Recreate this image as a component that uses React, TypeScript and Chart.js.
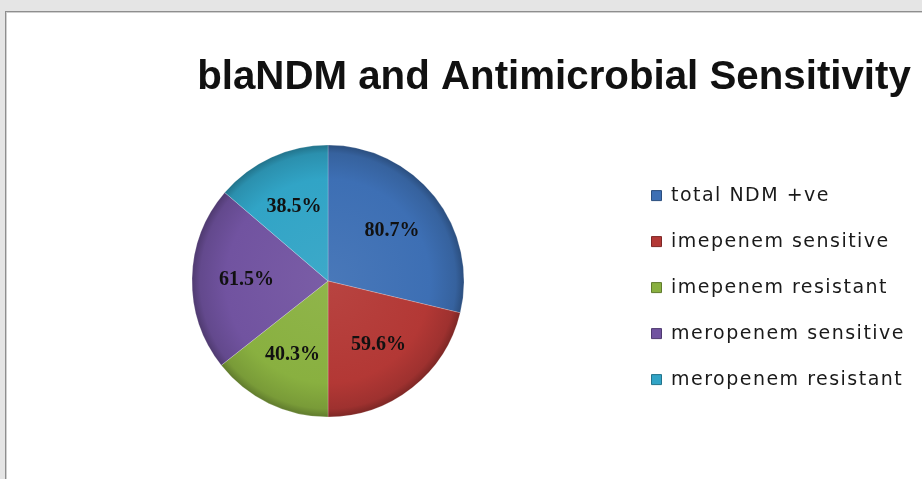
import React, { useEffect, useRef } from "react";
import { Chart, registerables } from "chart.js";

Chart.register(...registerables);

// ---- data ----
const chartTitle = "blaNDM and Antimicrobial Sensitivity";
const categories = [
  "total NDM +ve",
  "imepenem sensitive",
  "imepenem resistant",
  "meropenem sensitive",
  "meropenem resistant",
];
const values = [80.7, 59.6, 40.3, 61.5, 38.5];
const sliceColors = ["#3d6fb4", "#b33835", "#89b040", "#7153a0", "#31a4c6"];

// ---- style / layout ----
const CANVAS_W = 960;
const CANVAS_H = 467;
const PIE_RADIUS = 136;
const PIE_CX = 322;
const LEGEND_FONT = 19;
const LEGEND_FAMILY = '"DejaVu Sans", "Noto Sans", sans-serif';
const LEGEND_TARGET_W = 234;
const LEGEND_PAD = 27;
const LEGEND_BOX = 10;
const LEGEND_TEXT_X = 665;
const TITLE_FAMILY = '"Liberation Sans Narrow", "Liberation Sans", sans-serif';
const TITLE_TARGET_W = 714;
const TITLE_X = 548;
const TITLE_Y = 77;
const LABEL_FONT = 'bold 20px "Liberation Serif", "Times New Roman", serif';
const LABEL_R = 0.6;

function shade(hex: string, amt: number): string {
  const n = parseInt(hex.slice(1), 16);
  let r = (n >> 16) & 255, g = (n >> 8) & 255, b = n & 255;
  const t = amt < 0 ? 0 : 255;
  const p = Math.abs(amt);
  r = Math.round(r + (t - r) * p);
  g = Math.round(g + (t - g) * p);
  b = Math.round(b + (t - b) * p);
  return `rgb(${r},${g},${b})`;
}

export default function App() {
  const ref = useRef<HTMLCanvasElement>(null);

  useEffect(() => {
    const canvas = ref.current;
    if (!canvas) return;

    const m = document.createElement("canvas").getContext("2d") as any;
    m.font = `${LEGEND_FONT}px ${LEGEND_FAMILY}`;
    m.letterSpacing = "0px";
    let widest = categories[0];
    let rawW = 0;
    categories.forEach((c) => {
      const w = m.measureText(c).width;
      if (w > rawW) { rawW = w; widest = c; }
    });
    const spacing = Math.min(2, Math.max(0, (LEGEND_TARGET_W - rawW) / widest.length));
    m.letterSpacing = spacing + "px";
    const tw = Math.max(...categories.map((c) => m.measureText(c).width));
    m.letterSpacing = "0px";
    m.font = `bold 40px ${TITLE_FAMILY}`;
    const titleSize = (40 * TITLE_TARGET_W) / m.measureText(chartTitle).width;

    const legendLeft = LEGEND_TEXT_X - LEGEND_PAD - LEGEND_BOX - LEGEND_FONT / 2;
    const legendW = LEGEND_PAD + LEGEND_BOX + LEGEND_FONT / 2 + tw + 10;
    const padRight = CANVAS_W - legendLeft - legendW;
    const padLeft = 2 * PIE_CX - legendLeft;

    const spacingPlugin = {
      id: "spacing",
      beforeUpdate(chart: any) { chart.ctx.letterSpacing = spacing + "px"; },
      beforeDraw(chart: any) { chart.ctx.letterSpacing = spacing + "px"; },
    };

    const titlePlugin = {
      id: "customTitle",
      afterDraw(chart: any) {
        const ctx = chart.ctx;
        ctx.save();
        ctx.letterSpacing = "0px";
        ctx.font = `bold ${titleSize}px ${TITLE_FAMILY}`;
        ctx.fillStyle = "#111111";
        ctx.textAlign = "center";
        ctx.textBaseline = "alphabetic";
        ctx.fillText(chartTitle, TITLE_X, TITLE_Y);
        ctx.restore();
      },
    };

    const labelPlugin = {
      id: "sliceLabels",
      afterDatasetsDraw(chart: any) {
        const ctx = chart.ctx;
        const meta = chart.getDatasetMeta(0);
        ctx.save();
        ctx.letterSpacing = "0px";
        ctx.font = LABEL_FONT;
        ctx.fillStyle = "#111111";
        ctx.textAlign = "center";
        ctx.textBaseline = "middle";
        meta.data.forEach((arc: any, i: number) => {
          const p = arc.getProps(["x", "y", "startAngle", "endAngle", "outerRadius"], true);
          const mid = (p.startAngle + p.endAngle) / 2;
          const r = p.outerRadius * LABEL_R;
          ctx.fillText(values[i].toFixed(1) + "%", p.x + Math.cos(mid) * r, p.y + Math.sin(mid) * r);
        });
        ctx.restore();
      },
    };

    const chart = new Chart(canvas, {
      type: "pie",
      data: {
        labels: categories,
        datasets: [
          {
            data: values,
            radius: PIE_RADIUS,
            borderWidth: 0.6,
            borderColor: "rgba(255,255,255,0.35)",
            backgroundColor: (c: any) => {
              const base = sliceColors[c.dataIndex] ?? sliceColors[0];
              const area = c.chart.chartArea;
              if (!area) return base;
              const cx = (area.left + area.right) / 2;
              const cy = (area.top + area.bottom) / 2;
              const g = c.chart.ctx.createRadialGradient(cx, cy, 0, cx, cy, PIE_RADIUS);
              g.addColorStop(0, shade(base, 0.06));
              g.addColorStop(0.75, base);
              g.addColorStop(0.94, shade(base, -0.12));
              g.addColorStop(1, shade(base, -0.3));
              return g;
            },
          } as any,
        ],
      },
      options: {
        responsive: false,
        animation: false,
        events: [],
        layout: { padding: { top: 121, bottom: 50, left: padLeft, right: padRight } },
        plugins: {
          title: { display: false },
          tooltip: { enabled: false },
          legend: {
            position: "right",
            align: "center",
            title: { display: true, text: "", font: { size: 11, lineHeight: 1.2 }, padding: 0 },
            labels: {
              boxWidth: LEGEND_BOX,
              boxHeight: LEGEND_BOX,
              padding: LEGEND_PAD,
              color: "#1a1a1a",
              font: { size: LEGEND_FONT, family: LEGEND_FAMILY },
              generateLabels: () =>
                categories.map((t, i) => ({
                  text: t,
                  fillStyle: sliceColors[i],
                  strokeStyle: shade(sliceColors[i], -0.3),
                  lineWidth: 1,
                  hidden: false,
                  index: i,
                  fontColor: "#1a1a1a",
                })),
            },
          },
        },
      } as any,
      plugins: [spacingPlugin, titlePlugin, labelPlugin],
    });

    return () => chart.destroy();
  }, []);

  return (
    <div style={{ position: "fixed", inset: 0, background: "#e5e5e5", overflow: "hidden" }}>
      <div
        style={{
          position: "absolute",
          left: 5,
          top: 11,
          width: 1000,
          height: 600,
          background: "#ffffff",
          border: "1px solid #8e8e8e",
          boxShadow: "inset 1px 1px 0 #d0d0d0",
        }}
      >
        <canvas
          ref={ref}
          width={CANVAS_W}
          height={CANVAS_H}
          style={{ display: "block", width: CANVAS_W, height: CANVAS_H }}
        />
      </div>
    </div>
  );
}
